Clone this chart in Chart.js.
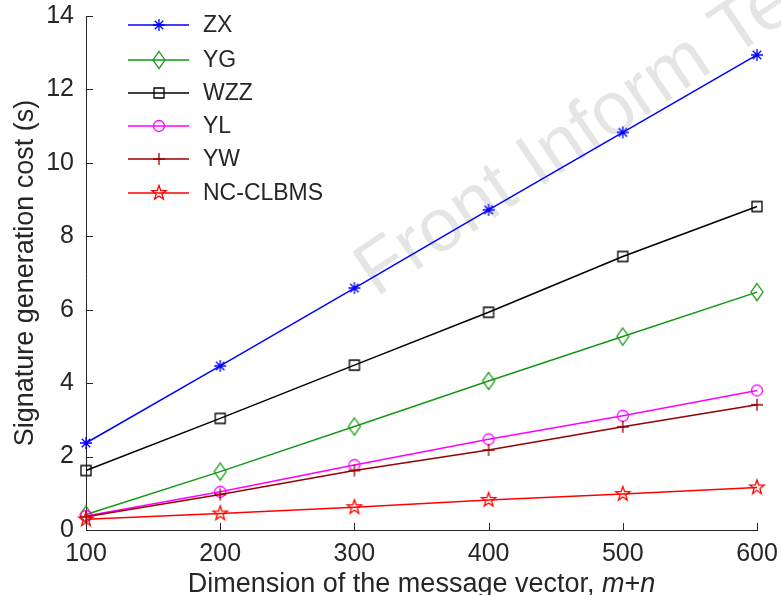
<!DOCTYPE html>
<html><head><meta charset="utf-8">
<script src="https://cdn.jsdelivr.net/npm/chart.js@4/dist/chart.umd.min.js"></script>
<style>html,body{margin:0;padding:0;background:#fff}#wrap{width:781px;height:595px}</style>
</head><body><div id="wrap"><canvas id="c" width="781" height="595"></canvas></div>
<script>
// ---- data ----
const dimensions = [100, 200, 300, 400, 500, 600];            // m+n
const seriesNames = ['ZX', 'YG', 'WZZ', 'YL', 'YW', 'NC-CLBMS'];
const costZX   = [2.37, 4.47, 6.59, 8.72, 10.83, 12.94];
const costYG   = [0.42, 1.59, 2.82, 4.06, 5.27, 6.48];
const costWZZ  = [1.62, 3.04, 4.49, 5.93, 7.45, 8.81];
const costYL   = [0.38, 1.04, 1.77, 2.47, 3.11, 3.80];
const costYW   = [0.36, 0.97, 1.62, 2.18, 2.81, 3.41];
const costNC   = [0.29, 0.45, 0.62, 0.82, 0.98, 1.16];
const xTickValues = [100, 200, 300, 400, 500, 600];
const yTickValues = [0, 2, 4, 6, 8, 10, 12, 14];
const yTitle = 'Signature generation cost (s)';
const xTitleParts = [['Dimension of the message vector, ', false], ['m', true], ['+', false], ['n', true]];
const watermark = 'Front Inform Technol Electron Eng';

// ---- styles ----
const FONT = '"Liberation Sans", Arial, Helvetica, sans-serif';
const TEXT = '#262626';
const colors = ['#0000FF', '#119911', '#000000', '#FF00FF', '#990000', '#FF0000'];
const kinds = ['asterisk', 'diamond', 'square', 'circle', 'plus', 'pentagram'];
const values = [costZX, costYG, costWZZ, costYL, costYW, costNC];

function marker(kind, color) {
  const s = 24, c = document.createElement('canvas');
  c.width = s; c.height = s;
  const g = c.getContext('2d');
  g.strokeStyle = color; g.lineWidth = 1.3; g.translate(s / 2, s / 2);
  g.beginPath();
  if (kind === 'asterisk') {
    const r = 6;
    for (let k = 0; k < 4; k++) {
      const a = k * Math.PI / 4;
      g.moveTo(-r * Math.cos(a), -r * Math.sin(a)); g.lineTo(r * Math.cos(a), r * Math.sin(a));
    }
  } else if (kind === 'diamond') {
    g.moveTo(0, -8.5); g.lineTo(6, 0); g.lineTo(0, 8.5); g.lineTo(-6, 0); g.closePath();
  } else if (kind === 'square') {
    g.rect(-5, -5, 10, 10);
  } else if (kind === 'circle') {
    g.arc(0, 0, 5.5, 0, Math.PI * 2);
  } else if (kind === 'plus') {
    g.moveTo(0, -6); g.lineTo(0, 6); g.moveTo(-6, 0); g.lineTo(6, 0);
  } else if (kind === 'pentagram') {
    for (let k = 0; k < 10; k++) {
      const r = k % 2 ? 3.0 : 7.5, a = -Math.PI / 2 + k * Math.PI / 5;
      const px = r * Math.cos(a), py = r * Math.sin(a);
      k ? g.lineTo(px, py) : g.moveTo(px, py);
    }
    g.closePath();
  }
  g.stroke();
  return c;
}
const markers = kinds.map((k, i) => marker(k, colors[i]));

const datasets = seriesNames.map((name, i) => ({
  label: name,
  data: dimensions.map((d, j) => ({ x: d, y: values[i][j] })),
  borderColor: colors[i],
  backgroundColor: colors[i],
  borderWidth: 1.5,
  pointStyle: markers[i],
  pointRadius: 7,
  pointHoverRadius: 7,
  tension: 0,
  clip: false,
  order: seriesNames.length - i
}));

const plugins = [{
  id: 'watermark',
  beforeDatasetsDraw(chart) {
    const ctx = chart.ctx;
    ctx.save();
    ctx.translate(376, 298);
    ctx.rotate(-34 * Math.PI / 180);
    ctx.font = '75px ' + FONT;
    ctx.fillStyle = 'rgba(0,0,0,0.10)';
    ctx.textBaseline = 'alphabetic';
    ctx.fillText(watermark, 0, 0);
    ctx.restore();
  }
}, {
  id: 'inwardTicksAndTitles',
  afterDraw(chart) {
    const { ctx, chartArea: a, scales: { x, y } } = chart;
    ctx.save();
    ctx.strokeStyle = TEXT; ctx.lineWidth = 1;
    ctx.beginPath();
    x.ticks.forEach(t => {
      const px = Math.round(x.getPixelForValue(t.value)) + 0.5;
      ctx.moveTo(px, a.bottom); ctx.lineTo(px, a.bottom - 7);
    });
    y.ticks.forEach(t => {
      const py = Math.round(y.getPixelForValue(t.value)) + 0.5;
      ctx.moveTo(a.left, py); ctx.lineTo(a.left + 7, py);
    });
    ctx.stroke();
    // x-axis title with italic m and n
    const size = 27;
    const fontOf = it => (it ? 'italic ' : '') + size + 'px ' + FONT;
    let total = 0;
    xTitleParts.forEach(([t, it]) => { ctx.font = fontOf(it); total += ctx.measureText(t).width; });
    let cx = (a.left + a.right) / 2 - total / 2;
    ctx.fillStyle = TEXT; ctx.textBaseline = 'alphabetic'; ctx.textAlign = 'left';
    xTitleParts.forEach(([t, it]) => { ctx.font = fontOf(it); ctx.fillText(t, cx, 592); cx += ctx.measureText(t).width; });
    // legend
    const rows = [25, 60, 93, 126, 159, 193];
    ctx.font = '23px ' + FONT; ctx.textBaseline = 'middle';
    chart.data.datasets.forEach((ds, i) => {
      const yy = rows[i];
      ctx.strokeStyle = ds.borderColor; ctx.lineWidth = ds.borderWidth;
      ctx.beginPath(); ctx.moveTo(128, yy); ctx.lineTo(189, yy); ctx.stroke();
      ctx.drawImage(ds.pointStyle, 159 - 12, yy - 12);
      ctx.fillStyle = TEXT; ctx.fillText(ds.label, 203, yy + 1);
    });
    ctx.restore();
  }
}];

new Chart(document.getElementById('c'), {
  type: 'line',
  data: { datasets },
  plugins,
  options: {
    responsive: false,
    animation: false,
    devicePixelRatio: 1,
    layout: { padding: { left: 0, right: 24, top: 16, bottom: 0 } },
    plugins: { legend: { display: false }, tooltip: { enabled: false } },
    scales: {
      x: {
        type: 'linear', min: 100, max: 600,
        afterFit: s => { s.height = 65; s.paddingLeft = 0; s.paddingRight = 0; },
        afterBuildTicks: s => { s.ticks = xTickValues.map(v => ({ value: v })); },
        grid: { display: false, drawTicks: false },
        border: { display: true, color: TEXT, width: 1 },
        ticks: { color: TEXT, font: { family: FONT, size: 25 }, padding: 9, maxRotation: 0, autoSkip: false },
        title: { display: false }
      },
      y: {
        type: 'linear', min: 0, max: 14,
        afterFit: s => { s.width = 86; s.paddingTop = 0; s.paddingBottom = 0; },
        afterBuildTicks: s => { s.ticks = yTickValues.map(v => ({ value: v })); },
        grid: { display: false, drawTicks: false },
        border: { display: true, color: TEXT, width: 1 },
        ticks: { color: TEXT, font: { family: FONT, size: 25 }, padding: 12 },
        title: { display: true, text: yTitle, color: TEXT, font: { family: FONT, size: 27 }, padding: { top: 9, bottom: 0 } }
      }
    }
  }
});
</script></body></html>
